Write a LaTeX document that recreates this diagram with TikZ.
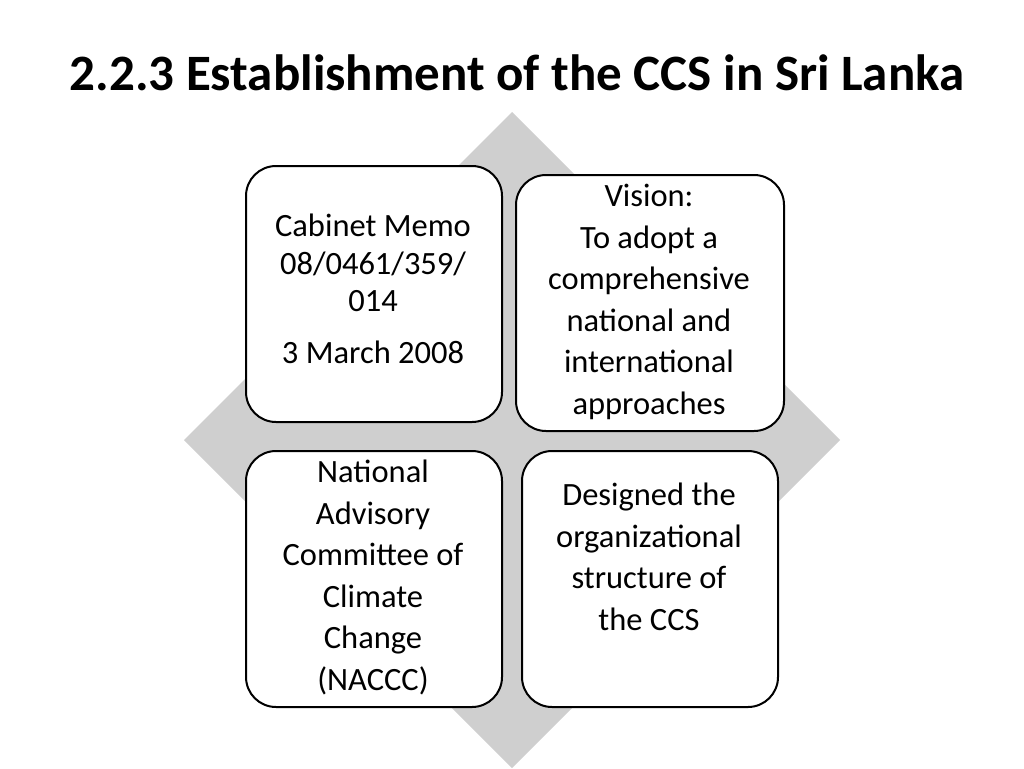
\documentclass[tikz,border=0pt]{standalone}
\usepackage{fontspec}
\setmainfont{Carlito}
\begin{document}
\begin{tikzpicture}[x=1pt,y=-1pt,
  box/.style={draw=black,line width=2pt,rounded corners=30pt,fill=white,anchor=north west,inner sep=0pt},
  txt/.style={align=center,font=\fontsize{32.5}{41.5}\selectfont,anchor=north,inner sep=0pt}]
\useasboundingbox (0,0) rectangle (1024,768);
\fill[white] (0,0) rectangle (1024,768);
\fill[gray!38] (512,112) -- (840,440) -- (512,768) -- (184,440) -- cycle;
\node[anchor=center,font=\fontsize{51}{56}\selectfont\bfseries] (title) at (517,73) {2.2.3 Establishment of the CCS in Sri Lanka};
\node[box,minimum width=256pt,minimum height=256pt] (b1) at (245,165) {};
\node[box,minimum width=268pt,minimum height=256pt] (b2) at (515,174) {};
\node[box,minimum width=256pt,minimum height=256pt] (b3) at (245,450) {};
\node[box,minimum width=256pt,minimum height=256pt] (b4) at (521,450) {};
\node[txt,font=\fontsize{32.5}{37.5}\selectfont] (t1) at (373,214) {Cabinet Memo\\08/0461/359/\\014};
\node[txt] (t1b) at (373,341) {3 March 2008};
\node[txt] (t2) at (649,184) {Vision:\\To adopt a\\comprehensive\\national and\\international\\approaches};
\node[txt] (t3) at (373,460) {National\\Advisory\\Committee of\\Climate\\Change\\(NACCC)};
\node[txt] (t4) at (649,483) {Designed the\\organizational\\structure of\\the CCS};
\end{tikzpicture}
\end{document}
